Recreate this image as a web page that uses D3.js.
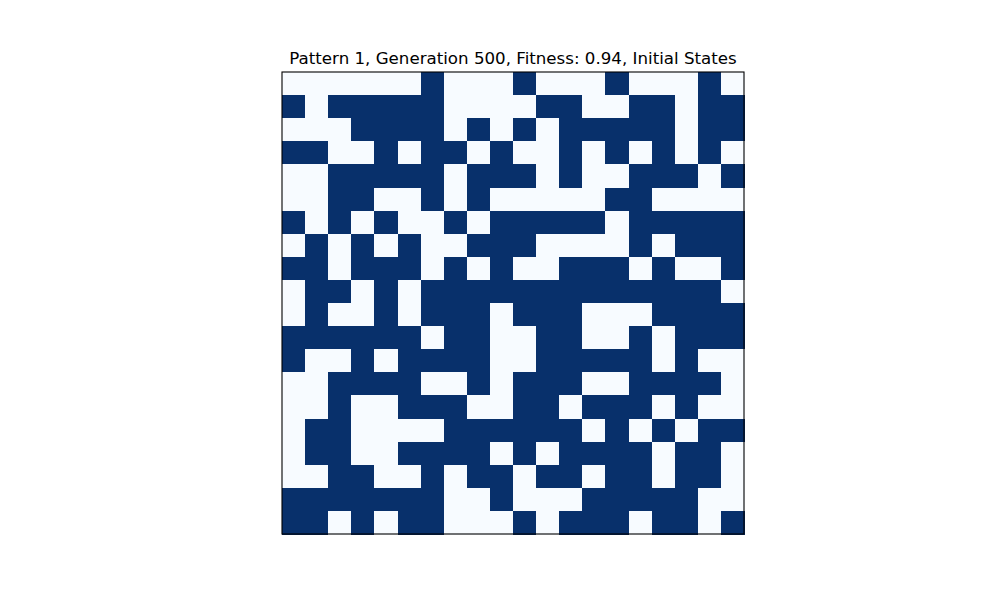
<!DOCTYPE html>
<html>
<head>
<meta charset="utf-8">
<script src="https://cdn.jsdelivr.net/npm/d3@7"></script>
<style>
  html, body { margin: 0; padding: 0; background: #fff; }
  .title { font-family: "DejaVu Sans", sans-serif; font-size: 16.67px; fill: #000; }
</style>
</head>
<body>
<div id="root"></div>
<script>
// Initial states, 20 x 20 (1 = on / dark, 0 = off / light)
const titleText = 'Pattern 1, Generation 500, Fitness: 0.94, Initial States';
const stateRows = [
  '00000010001000100010',
  '10111110000110011011',
  '00011110101011111011',
  '11001011010010101010',
  '00111110111010011101',
  '00110010100000110000',
  '10101001011111011111',
  '01010100111000010111',
  '11011101010011101001',
  '01101011111111111110',
  '01001011101110001111',
  '11111101100110010111',
  '10010111100111110100',
  '00111100101110011110',
  '00100111001101110100',
  '01100001111110101011',
  '01100111101011110110',
  '00110010110110110110',
  '11111110010001111100',
  '11010110001011101101'
];
const stateColors = ['#f7fbff', '#08306b'];

const el = document.getElementById('root');
const W = 1000, H = 600;
const m = { left: 282, top: 72, size: 462 };

const cells = [];
stateRows.forEach((row, r) => {
  row.split('').forEach((v, c) => cells.push({ r, c, v: +v }));
});

const n = stateRows.length;
const x = d3.scaleBand().domain(d3.range(n)).range([m.left, m.left + m.size]);
const y = d3.scaleBand().domain(d3.range(n)).range([m.top, m.top + m.size]);
const color = d3.scaleOrdinal().domain([0, 1]).range(stateColors);

const svg = d3.select(el).append('svg').attr('width', W).attr('height', H);

svg.append('g')
  .attr('shape-rendering', 'crispEdges')
  .selectAll('rect')
  .data(cells)
  .join('rect')
  .attr('x', d => x(d.c))
  .attr('y', d => y(d.r))
  .attr('width', x.bandwidth() + 0.5)
  .attr('height', y.bandwidth() + 0.5)
  .attr('fill', d => color(d.v));

// moldura
svg.append('rect')
  .attr('x', m.left).attr('y', m.top)
  .attr('width', m.size).attr('height', m.size)
  .attr('fill', 'none').attr('stroke', '#000').attr('stroke-width', 1.1);

svg.append('text')
  .attr('class', 'title')
  .attr('x', m.left + m.size / 2)
  .attr('y', 64)
  .attr('text-anchor', 'middle')
  .text(titleText);
</script>
</body>
</html>
